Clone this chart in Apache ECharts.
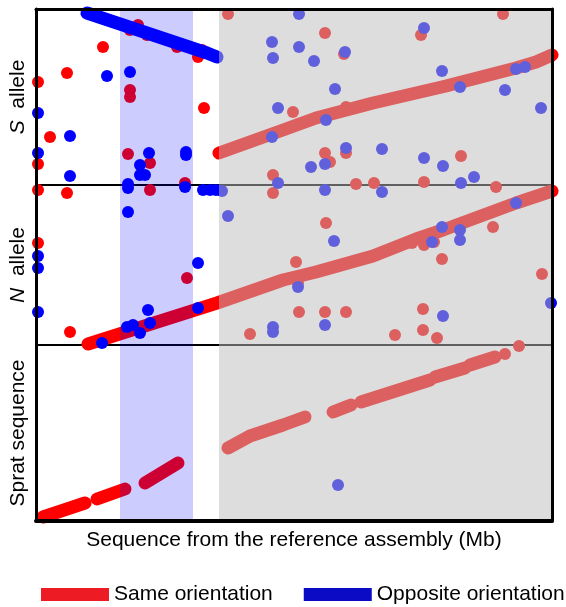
<!DOCTYPE html>
<html>
<head>
    <meta charset="utf-8">
    <title>Dot plot - S / N allele vs sprat</title>
    <script src="https://cdn.jsdelivr.net/npm/echarts@6/dist/echarts.min.js"></script>
    <style>
        html, body { margin: 0; padding: 0; background: #fff; }
        #chart { width: 566px; height: 607px; }
    </style>
</head>
<body>
    <div id="chart"></div>
    <script>
        // x: position on reference assembly (Mb); y: position in each compared sequence (Mb)
        const xMax = 5.16;
        const panelMax = [1.76, 1.60, 1.76];
        const blueZone = [0.84, 1.57];
        const grayZone = [1.83, 5.16];

        // S allele panel
        const sRedRuns = [
            [[1.83, 0.32], [2.47, 0.55], [2.80, 0.67], [3.37, 0.82], [4.10, 0.99], [4.80, 1.17], [5.00, 1.23], [5.16, 1.30]]
        ];
        const sBlueRuns = [
            [[0.51, 1.72], [1.71, 1.32], [1.81, 1.28]]
        ];
        const sRedDots = [
            [0.94, 1.55], [1.02, 1.60], [1.11, 1.50], [1.41, 1.38], [1.66, 1.35], [1.62, 1.28],
            [0.67, 1.38], [0.31, 1.12], [0.02, 1.03], [0.14, 0.48], [0.02, 0.21], [1.68, 0.77],
            [0.94, 0.95], [0.94, 0.88], [0.92, 0.31], [1.14, 0.22], [1.49, 0.02], [1.92, 1.71],
            [2.37, 0.10], [2.89, 1.52], [3.08, 1.31], [3.85, 1.50], [4.67, 1.71], [2.89, 0.32],
            [2.94, 0.23], [3.10, 0.32], [4.25, 0.29], [3.20, 0.01], [3.38, 0.02], [3.88, 0.03],
            [2.57, 0.73], [3.10, 0.78]
        ];
        const sBlueDots = [
            [0.71, 1.09], [0.94, 1.13], [0.02, 0.72], [0.34, 0.49], [0.02, 0.32], [0.34, 0.09],
            [1.13, 0.32], [1.04, 0.20], [1.04, 0.10], [1.09, 0.10], [1.50, 0.33], [1.50, 0.30],
            [0.92, 0.01], [2.36, 1.43], [2.37, 1.27], [2.42, 0.77], [2.36, 0.48], [2.42, 0.02],
            [2.63, 1.71], [2.63, 1.38], [2.78, 1.24], [3.09, 1.33], [2.99, 0.96], [3.88, 1.57],
            [4.06, 1.14], [4.69, 0.95], [4.80, 1.16], [4.89, 1.18], [5.05, 0.77], [2.90, 0.65],
            [4.24, 0.98], [3.10, 0.37], [3.46, 0.36], [2.75, 0.18], [2.89, 0.21], [3.88, 0.27],
            [4.07, 0.19], [4.38, 0.08], [4.25, 0.02]
        ];

        // N allele panel
        const nRedRuns = [
            [[0.52, 0.01], [1.81, 0.42], [2.47, 0.65], [2.80, 0.73], [3.37, 0.89], [3.80, 1.06], [4.07, 1.15], [4.80, 1.42], [5.16, 1.54]]
        ];
        const nRedDots = [
            [3.76, 1.02], [3.88, 1.00], [3.98, 1.03], [2.62, 0.62],
            [0.31, 1.52], [0.02, 1.55], [0.02, 1.02], [0.34, 0.13], [1.14, 1.55], [1.51, 0.67],
            [2.37, 1.52], [2.14, 0.11], [2.90, 1.22], [2.60, 0.83], [4.06, 0.86], [4.57, 1.18],
            [5.06, 0.71], [2.63, 0.33], [2.89, 0.33], [3.10, 0.33], [3.87, 0.36], [3.87, 0.15],
            [3.59, 0.10], [4.01, 0.07], [4.60, 1.58]
        ];
        const nBlueDots = [
            [0.92, 1.57], [0.92, 1.33], [1.49, 1.58], [1.67, 1.55], [1.74, 1.55], [1.80, 1.55],
            [1.86, 1.54], [0.02, 0.89], [0.02, 0.77], [0.02, 0.33], [1.62, 0.82], [0.66, 0.02],
            [0.91, 0.18], [0.97, 0.20], [1.04, 0.12], [1.14, 0.22], [1.12, 0.35], [1.62, 0.37],
            [1.92, 1.29], [2.37, 0.18], [2.37, 0.13], [2.89, 1.55], [3.46, 1.53], [2.98, 1.04],
            [2.62, 0.58], [2.89, 0.20], [4.07, 0.29], [4.06, 1.18], [3.96, 1.03], [4.24, 1.15],
            [4.24, 1.05], [4.80, 1.42], [5.15, 0.42]
        ];

        // Sprat panel
        const spratRedRuns = [
            [[0.07, 0.04], [0.49, 0.18]],
            [[0.61, 0.22], [0.89, 0.32]],
            [[1.09, 0.38], [1.42, 0.58]],
            [[1.92, 0.73], [2.14, 0.85], [2.47, 0.96], [2.69, 1.04]],
            [[2.97, 1.09], [3.15, 1.16]],
            [[3.25, 1.19], [3.94, 1.41]],
            [[3.99, 1.44], [4.29, 1.53]],
            [[4.34, 1.56], [4.59, 1.64]]
        ];
        const spratRedDots = [[4.69, 1.67], [4.83, 1.75]];
        const spratBlueDots = [[3.02, 0.36]];

        const panels = [
            { name: '{i|S}  allele', redDots: sRedDots, blueDots: sBlueDots, redRuns: sRedRuns, blueRuns: sBlueRuns, xi: 0 },
            { name: '{i|N}  allele', redDots: nRedDots, blueDots: nBlueDots, redRuns: nRedRuns, blueRuns: [], xi: 1 },
            { name: 'Sprat sequence', redDots: spratRedDots, blueDots: spratBlueDots, redRuns: spratRedRuns, blueRuns: [], xi: 3 }
        ];

        const RED = '#ff0000';
        const BLUE = '#0000ff';
        const font = 'Liberation Sans, Arial, sans-serif';

        const grids = [
            { left: 36, width: 516, top: 9, height: 176 },
            { left: 36, width: 516, top: 185, height: 160 },
            { left: 36, width: 516, top: 345, height: 176 }
        ];

        function xAx(grid, position, width, z, extra) {
            return Object.assign({
                type: 'value', gridIndex: grid, position: position, min: 0, max: xMax, z: z,
                axisLine: { onZero: false, lineStyle: { color: '#000', width: width } },
                axisTick: { show: false }, axisLabel: { show: false }, splitLine: { show: false }
            }, extra || {});
        }
        function yAx(grid, position, extra) {
            return Object.assign({
                type: 'value', gridIndex: grid, position: position, min: 0, max: panelMax[grid], z: 10,
                axisLine: { onZero: false, lineStyle: { color: '#000', width: 3 } },
                axisTick: { show: false }, axisLabel: { show: false }, splitLine: { show: false }
            }, extra || {});
        }

        const xAxes = [
            xAx(0, 'top', 3, 10),
            xAx(1, 'top', 2, 1),
            xAx(1, 'bottom', 2, 1),
            xAx(2, 'bottom', 4, 10, {
                name: 'Sequence from the reference assembly (Mb)',
                nameLocation: 'middle', nameGap: 9,
                nameTextStyle: { fontSize: 21, fontFamily: font, color: '#000' }
            })
        ];
        const yAxes = [];
        panels.forEach((p, i) => {
            yAxes[i] = yAx(i, 'left', {
                name: p.name, nameLocation: 'middle', nameGap: 7, nameRotate: 90,
                nameTextStyle: {
                    fontSize: 21, fontFamily: font, color: '#000',
                    rich: { i: { fontSize: 21, fontFamily: font, fontStyle: 'italic', color: '#000' } }
                }
            });
            yAxes[i + 3] = yAx(i, 'right');
        });

        const series = [];
        // red dots first so the legend picks a plain symbol
        panels.forEach((p, i) => {
            series.push({
                type: 'scatter', name: 'Same orientation', xAxisIndex: p.xi, yAxisIndex: i,
                data: p.redDots, symbolSize: 12, clip: false, silent: true, z: 2,
                itemStyle: { color: RED, opacity: 1 }
            });
        });
        panels.forEach((p, i) => {
            p.redRuns.forEach(r => series.push({
                type: 'line', name: 'Same orientation', xAxisIndex: p.xi, yAxisIndex: i,
                data: r, symbol: 'none', clip: false, silent: true, z: 2,
                lineStyle: { color: RED, width: 13, cap: 'round', join: 'round' }
            }));
            p.blueRuns.forEach(r => series.push({
                type: 'line', name: 'Opposite orientation', xAxisIndex: p.xi, yAxisIndex: i,
                data: r, symbol: 'none', clip: false, silent: true, z: 3,
                lineStyle: { color: BLUE, width: 13, cap: 'round', join: 'round' }
            }));
            series.push({
                type: 'scatter', name: 'Opposite orientation', xAxisIndex: p.xi, yAxisIndex: i,
                data: p.blueDots, symbolSize: 12, clip: false, silent: true, z: 3,
                itemStyle: { color: BLUE, opacity: 1 }
            });
            // thin trace of the same-orientation run drawn across the blue dots
            if (i < 2) {
                p.redRuns.forEach(r => series.push({
                    type: 'line', name: 'Same orientation', xAxisIndex: p.xi, yAxisIndex: i,
                    data: r, symbol: 'none', clip: false, silent: true, z: 3,
                    lineStyle: { color: RED, width: 1.5 }
                }));
            }
            // shaded zones on top of the dots
            series.push({
                type: 'line', name: 'zones' + i, xAxisIndex: p.xi, yAxisIndex: i, data: [], z: 5,
                markArea: {
                    silent: true, z: 6,
                    data: [
                        [{ xAxis: blueZone[0], itemStyle: { color: 'rgba(0,0,255,0.2)' } }, { xAxis: blueZone[1] }],
                        [{ xAxis: grayZone[0], itemStyle: { color: 'rgba(188,188,188,0.51)' } }, { xAxis: grayZone[1] }]
                    ]
                }
            });
        });

        const chart = echarts.init(document.getElementById('chart'));
        chart.setOption({
            animation: false,
            grid: grids,
            xAxis: xAxes,
            yAxis: yAxes,
            legend: {
                left: 36, top: 579, width: 540, orient: 'horizontal',
                icon: 'rect', itemWidth: 68, itemHeight: 13, itemGap: 31,
                textStyle: { fontSize: 21, fontFamily: font, color: '#000' },
                data: [
                    { name: 'Same orientation', itemStyle: { color: '#ed1c24' } },
                    { name: 'Opposite orientation', itemStyle: { color: '#0b0bc6' } }
                ]
            },
            series: series
        });
    </script>
</body>
</html>
